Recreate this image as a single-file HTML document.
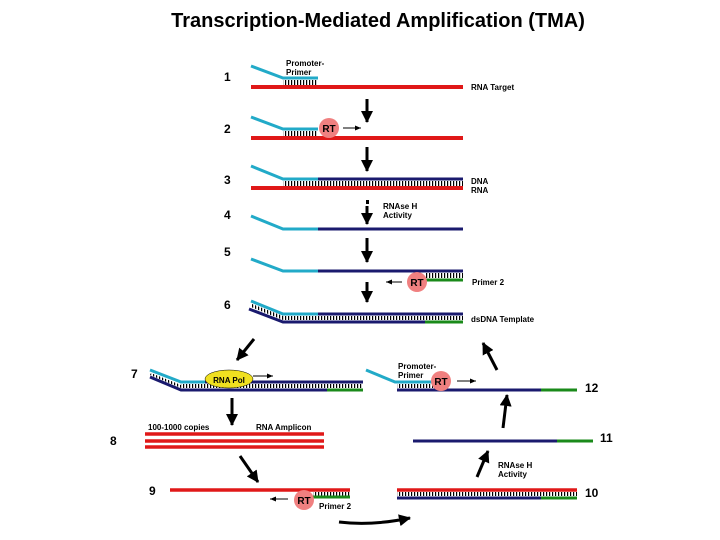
<!DOCTYPE html>
<html><head><meta charset="utf-8"><style>
body{margin:0;background:#fff}
svg{display:block}
text{font-family:"Liberation Sans",sans-serif;font-weight:bold;fill:#000}
</style></head><body>
<svg width="720" height="540" viewBox="0 0 720 540" xmlns="http://www.w3.org/2000/svg">
<defs>
<pattern id="tk" width="3" height="6" patternUnits="userSpaceOnUse"><rect x="0" y="0" width="1.2" height="6" fill="#000"/></pattern>
<marker id="ah" markerUnits="userSpaceOnUse" markerWidth="12" markerHeight="12" refX="11" refY="6" orient="auto"><path d="M0,0 L12,6 L0,12 z" fill="#000"/></marker>
<marker id="bh" markerUnits="userSpaceOnUse" markerWidth="6" markerHeight="5" refX="6" refY="2.5" orient="auto"><path d="M0,0 L6,2.5 L0,5 z" fill="#000"/></marker>
</defs>
<text x="378" y="27" font-size="20" text-anchor="middle">Transcription-Mediated Amplification (TMA)</text>
<g font-size="8">
<!-- Row1 -->
<text x="224" y="81" font-size="12">1</text>
<polyline points="251,66 283,78 318,78" fill="none" stroke="#22aac8" stroke-width="3"/>
<rect x="283" y="80" width="35" height="5" fill="url(#tk)"/>
<line x1="251" y1="87" x2="463" y2="87" stroke="#e01818" stroke-width="4"/>
<text x="286" y="66">Promoter-</text><text x="286" y="75">Primer</text>
<text x="471" y="90">RNA Target</text>
<line x1="367" y1="99" x2="367" y2="122" stroke="#000" stroke-width="3" marker-end="url(#ah)"/>
<!-- Row2 -->
<text x="224" y="133" font-size="12">2</text>
<polyline points="251,117 283,129 318,129" fill="none" stroke="#22aac8" stroke-width="3"/>
<rect x="283" y="131" width="35" height="5" fill="url(#tk)"/>
<line x1="251" y1="138" x2="463" y2="138" stroke="#e01818" stroke-width="4"/>
<circle cx="329" cy="128" r="10" fill="#f08080"/><text x="329" y="132" text-anchor="middle" font-size="10">RT</text>
<line x1="343" y1="128" x2="361" y2="128" stroke="#000" stroke-width="1" marker-end="url(#bh)"/>
<line x1="367" y1="147" x2="367" y2="171" stroke="#000" stroke-width="3" marker-end="url(#ah)"/>
<!-- Row3 -->
<text x="224" y="184" font-size="12">3</text>
<polyline points="251,166 283,179 318,179" fill="none" stroke="#22aac8" stroke-width="3"/>
<line x1="318" y1="179" x2="463" y2="179" stroke="#1a1a6e" stroke-width="3"/>
<rect x="283" y="181" width="180" height="5" fill="url(#tk)"/>
<line x1="251" y1="188" x2="463" y2="188" stroke="#e01818" stroke-width="4"/>
<text x="471" y="184">DNA</text><text x="471" y="193">RNA</text>
<rect x="366" y="200" width="3" height="4" fill="#000"/>
<line x1="367" y1="206" x2="367" y2="224" stroke="#000" stroke-width="3" marker-end="url(#ah)"/>
<text x="383" y="209">RNAse H</text><text x="383" y="218">Activity</text>
<!-- Row4 -->
<text x="224" y="219" font-size="12">4</text>
<polyline points="251,216 283,229 318,229" fill="none" stroke="#22aac8" stroke-width="3"/>
<line x1="318" y1="229" x2="463" y2="229" stroke="#1a1a6e" stroke-width="3"/>
<line x1="367" y1="238" x2="367" y2="262" stroke="#000" stroke-width="3" marker-end="url(#ah)"/>
<!-- Row5 -->
<text x="224" y="256" font-size="12">5</text>
<polyline points="251,259 283,271 318,271" fill="none" stroke="#22aac8" stroke-width="3"/>
<line x1="318" y1="271" x2="463" y2="271" stroke="#1a1a6e" stroke-width="3"/>
<rect x="425" y="273" width="38" height="5" fill="url(#tk)"/>
<line x1="425" y1="280" x2="463" y2="280" stroke="#1a8a1a" stroke-width="3"/>
<circle cx="417" cy="282" r="10" fill="#f08080"/><text x="417" y="286" text-anchor="middle" font-size="10">RT</text>
<line x1="402" y1="282" x2="386" y2="282" stroke="#000" stroke-width="1" marker-end="url(#bh)"/>
<text x="472" y="285">Primer 2</text>
<line x1="367" y1="282" x2="367" y2="302" stroke="#000" stroke-width="3" marker-end="url(#ah)"/>
<!-- Row6 -->
<text x="224" y="309" font-size="12">6</text>
<polyline points="251,301 283,314 318,314" fill="none" stroke="#22aac8" stroke-width="3"/>
<line x1="318" y1="314" x2="463" y2="314" stroke="#1a1a6e" stroke-width="3"/>
<polyline points="249,309 283,322 425,322" fill="none" stroke="#1a1a6e" stroke-width="3"/>
<line x1="425" y1="322" x2="463" y2="322" stroke="#1a8a1a" stroke-width="3"/>
<rect x="283" y="316" width="180" height="4" fill="url(#tk)"/>
<polygon points="252,304 283,316 283,320 251,307" fill="url(#tk)"/>
<text x="471" y="322">dsDNA Template</text>
<!-- big arrows -->
<line x1="254" y1="339" x2="237" y2="360" stroke="#000" stroke-width="3" marker-end="url(#ah)"/>
<line x1="497" y1="370" x2="483" y2="343" stroke="#000" stroke-width="3" marker-end="url(#ah)"/>
<!-- Row7 -->
<text x="131" y="378" font-size="12">7</text>
<polyline points="150,370 181,382 205,382" fill="none" stroke="#22aac8" stroke-width="3"/>
<line x1="205" y1="382" x2="363" y2="382" stroke="#1a1a6e" stroke-width="3"/>
<polyline points="150,377 181,390 327,390" fill="none" stroke="#1a1a6e" stroke-width="3"/>
<line x1="327" y1="390" x2="363" y2="390" stroke="#1a8a1a" stroke-width="3"/>
<rect x="181" y="384" width="182" height="4" fill="url(#tk)"/>
<polygon points="151,373 181,385 181,388 150,375" fill="url(#tk)"/>
<ellipse cx="229" cy="379" rx="24" ry="9" fill="#f0e020" stroke="#000" stroke-width="0.5"/>
<text x="229" y="383" text-anchor="middle">RNA Pol</text>
<line x1="253" y1="376" x2="273" y2="376" stroke="#000" stroke-width="1" marker-end="url(#bh)"/>
<line x1="232" y1="398" x2="232" y2="425" stroke="#000" stroke-width="3" marker-end="url(#ah)"/>
<!-- Row8 -->
<text x="110" y="445" font-size="12">8</text>
<text x="148" y="430">100-1000 copies</text><text x="256" y="430">RNA Amplicon</text>
<line x1="145" y1="434" x2="324" y2="434" stroke="#e01818" stroke-width="3.5"/>
<line x1="145" y1="441" x2="324" y2="441" stroke="#e01818" stroke-width="3.5"/>
<line x1="145" y1="447" x2="324" y2="447" stroke="#e01818" stroke-width="3.5"/>
<line x1="240" y1="456" x2="258" y2="482" stroke="#000" stroke-width="3" marker-end="url(#ah)"/>
<!-- Row9 -->
<text x="149" y="495" font-size="12">9</text>
<line x1="170" y1="490" x2="350" y2="490" stroke="#e01818" stroke-width="3.5"/>
<rect x="313" y="492" width="37" height="4" fill="url(#tk)"/>
<line x1="313" y1="497" x2="350" y2="497" stroke="#1a8a1a" stroke-width="3"/>
<circle cx="304" cy="500" r="10" fill="#f08080"/><text x="304" y="504" text-anchor="middle" font-size="10">RT</text>
<line x1="288" y1="499" x2="270" y2="499" stroke="#000" stroke-width="1" marker-end="url(#bh)"/>
<text x="319" y="509">Primer 2</text>
<path d="M339,522 Q372,526 410,518" fill="none" stroke="#000" stroke-width="3" marker-end="url(#ah)"/>
<!-- Row10 -->
<line x1="397" y1="490" x2="577" y2="490" stroke="#e01818" stroke-width="3.5"/>
<rect x="397" y="492" width="180" height="4" fill="url(#tk)"/>
<line x1="397" y1="498" x2="541" y2="498" stroke="#1a1a6e" stroke-width="3"/>
<line x1="541" y1="498" x2="577" y2="498" stroke="#1a8a1a" stroke-width="3"/>
<text x="585" y="497" font-size="12">10</text>
<line x1="477" y1="477" x2="488" y2="451" stroke="#000" stroke-width="3" marker-end="url(#ah)"/>
<text x="498" y="468">RNAse H</text><text x="498" y="477">Activity</text>
<!-- Row11 -->
<line x1="413" y1="441" x2="557" y2="441" stroke="#1a1a6e" stroke-width="3"/>
<line x1="557" y1="441" x2="593" y2="441" stroke="#1a8a1a" stroke-width="3"/>
<text x="600" y="442" font-size="12">11</text>
<line x1="503" y1="428" x2="507" y2="395" stroke="#000" stroke-width="3" marker-end="url(#ah)"/>
<!-- Row12 -->
<polyline points="366,370 395,382 432,382" fill="none" stroke="#22aac8" stroke-width="3"/>
<rect x="397" y="384" width="36" height="4" fill="url(#tk)"/>
<line x1="397" y1="390" x2="541" y2="390" stroke="#1a1a6e" stroke-width="3"/>
<line x1="541" y1="390" x2="577" y2="390" stroke="#1a8a1a" stroke-width="3"/>
<circle cx="441" cy="381" r="10" fill="#f08080"/><text x="441" y="385" text-anchor="middle" font-size="10">RT</text>
<line x1="457" y1="381" x2="476" y2="381" stroke="#000" stroke-width="1" marker-end="url(#bh)"/>
<text x="398" y="369">Promoter-</text><text x="398" y="378">Primer</text>
<text x="585" y="392" font-size="12">12</text>
</g>
</svg>
</body></html>
